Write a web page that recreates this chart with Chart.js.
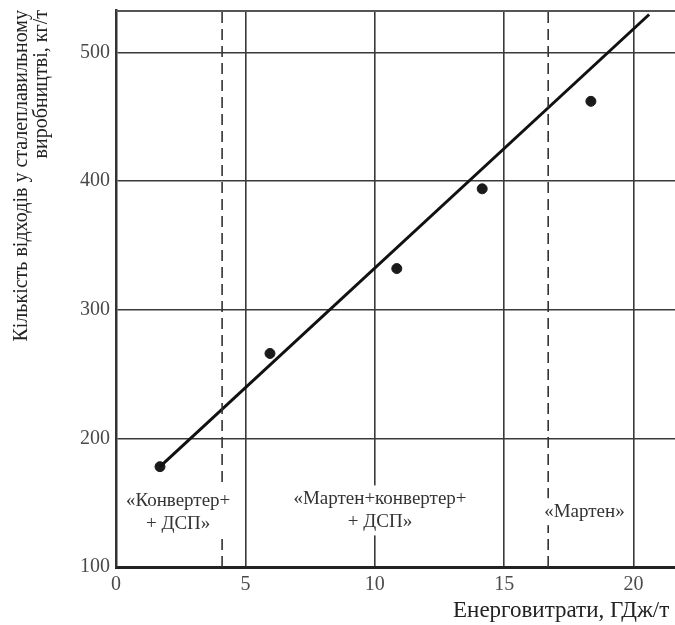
<!DOCTYPE html>
<html>
<head>
<meta charset="utf-8">
<script src="https://cdn.jsdelivr.net/npm/chart.js@4.4.1/dist/chart.umd.min.js"></script>
<style>
  body { margin: 0; background: #fff; }
  canvas { display: block; }
</style>
</head>
<body>
<canvas id="myChart" width="675" height="625"></canvas>
<script>
// measured points
const energy = [1.7, 5.95, 10.85, 14.15, 18.35];
const waste = [178, 266, 332, 394, 462];

// fitted line ends
const fitEnergy = [1.7, 20.6];
const fitWaste = [178, 529.5];

// dashed boundaries between process groups
const boundaryEnergy = [4.1, 16.7];

// region captions
const regionText = [
    ['«Конвертер+', '+ ДСП»'],
    ['«Мартен+конвертер+', '+ ДСП»'],
    ['«Мартен»']
];
const regionEnergy = [2.4, 10.2, 18.1];
const regionWaste = [142, 144, 143];

const serif = "'Liberation Serif', 'DejaVu Serif', serif";

const boundarySets = boundaryEnergy.map(e => ({
    data: [{x: e, y: 100}, {x: e, y: 533}],
    showLine: true,
    borderColor: '#333',
    borderWidth: 1.6,
    borderDash: [11, 6],
    pointRadius: 0
}));

function noPad(s) {
    s.paddingTop = 0;
    s.paddingBottom = 0;
    s.paddingLeft = 0;
    s.paddingRight = 0;
}

const framePlugin = {
    id: 'frame',
    afterDatasetsDraw(chart) {
        const c = chart.ctx;
        const a = chart.chartArea;
        const xs = chart.scales.x, ys = chart.scales.y;
        c.save();
        // top border
        c.strokeStyle = '#555';
        c.lineWidth = 2;
        c.beginPath();
        c.moveTo(a.left, a.top + 1);
        c.lineTo(a.right, a.top + 1);
        c.stroke();
        // captions on white boxes
        c.font = '19px ' + serif;
        c.textAlign = 'center';
        c.textBaseline = 'middle';
        regionText.forEach((lines, i) => {
            const cx = xs.getPixelForValue(regionEnergy[i]);
            const cy = ys.getPixelForValue(regionWaste[i]);
            const lh = 23;
            const w = Math.max(...lines.map(t => c.measureText(t).width)) + 4;
            const h = lines.length * lh + 4;
            c.fillStyle = '#fff';
            c.fillRect(cx - w / 2, cy - h / 2, w, h);
            c.fillStyle = '#333';
            lines.forEach((t, j) => {
                c.fillText(t, cx, cy - (lines.length - 1) * lh / 2 + j * lh);
            });
        });
        c.restore();
    }
};

const ctx = document.getElementById('myChart').getContext('2d');
const myChart = new Chart(ctx, {
    type: 'scatter',
    data: {
        datasets: [
            ...boundarySets,
            {
                data: fitEnergy.map((e, i) => ({x: e, y: fitWaste[i]})),
                showLine: true,
                borderColor: '#111',
                borderWidth: 3,
                pointRadius: 0
            },
            {
                data: energy.map((e, i) => ({x: e, y: waste[i]})),
                backgroundColor: '#1a1a1a',
                borderColor: '#1a1a1a',
                pointRadius: 5
            }
        ]
    },
    options: {
        responsive: false,
        animation: false,
        devicePixelRatio: 1,
        layout: { autoPadding: false, padding: { top: 10, right: 0, left: 0, bottom: 0 } },
        plugins: {
            legend: { display: false },
            tooltip: { enabled: false }
        },
        scales: {
            x: {
                type: 'linear',
                min: 0,
                max: 21.6,
                afterFit(s) { s.height = 58; noPad(s); },
                grid: { color: '#3a3a3a', lineWidth: 1.6, drawTicks: false },
                border: { color: '#222', width: 3 },
                ticks: {
                    stepSize: 5,
                    includeBounds: false,
                    padding: 6,
                    color: '#4a4a4a',
                    font: { family: serif, size: 20 }
                },
                title: {
                    display: true,
                    text: 'Енерговитрати, ГДж/т ',
                    align: 'end',
                    color: '#222',
                    padding: { top: 0, bottom: 1 },
                    font: { family: serif, size: 23, lineHeight: 1.1 }
                }
            },
            y: {
                min: 100,
                max: 533,
                afterFit(s) { s.width = 116; noPad(s); },
                grid: { color: '#3a3a3a', lineWidth: 1.6, drawTicks: false },
                border: { color: '#333', width: 2.5 },
                ticks: {
                    stepSize: 100,
                    includeBounds: false,
                    padding: 6,
                    color: '#4a4a4a',
                    font: { family: serif, size: 20 }
                },
                title: {
                    display: true,
                    text: ['Кількість відходів у сталеплавильному', 'виробництві, кг/т'],
                    align: 'end',
                    color: '#222',
                    padding: { top: 12, bottom: 0 },
                    font: { family: serif, size: 20, lineHeight: 1.0 }
                }
            }
        }
    },
    plugins: [framePlugin]
});
</script>
</body>
</html>
